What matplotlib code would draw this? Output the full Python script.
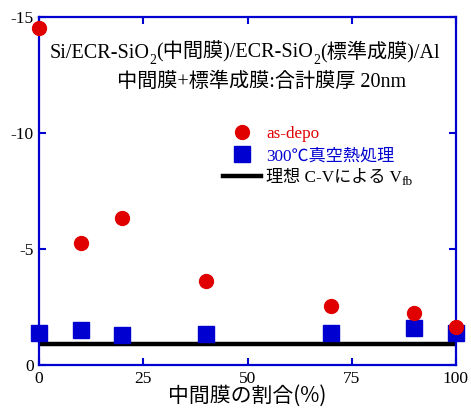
import matplotlib
import matplotlib.pyplot as plt
from matplotlib.transforms import offset_copy
matplotlib.use('Agg')

# Data
ratio = [0, 10, 20, 40, 70, 90, 100]
vfb_asdepo = [-14.5, -5.25, -6.35, -3.6, -2.55, -2.25, -1.65]
vfb_annealed = [-1.4, -1.5, -1.3, -1.35, -1.4, -1.58, -1.4]
vfb_ideal = -0.9

x_ticks = [0, 25, 50, 75, 100]
y_ticks = [0, -5, -10, -15]

serif = ['Liberation Serif', 'Noto Sans CJK JP']
sans = ['Noto Sans CJK JP', 'DejaVu Sans']
blue = '#0000d0'
red = '#e00000'

fig = plt.figure(figsize=(4.71, 4.12), dpi=100)
ax = fig.add_axes([0.083, 0.114, 0.885, 0.845])
renderer = fig.canvas.get_renderer()


def chain_text(x, y, parts, size=14.5):
    # parts: list of (text, is_subscript), drawn one after another on one baseline
    x_disp, y_disp = ax.transAxes.transform((x, y))
    for s, sub in parts:
        fs = size * 0.68 if sub else size
        dy = -4 if sub else 0
        tr = offset_copy(matplotlib.transforms.IdentityTransform(), fig=fig, y=dy, units='points')
        t = fig.text(x_disp, y_disp, s, transform=tr, ha='left', va='baseline',
                     family=serif, fontsize=fs)
        x_disp = t.get_window_extent(renderer).x1


ax.axhline(vfb_ideal, color='black', lw=3.2, label='理想 C-Vによる V', zorder=2)
ax.plot(ratio, vfb_asdepo, 'o', color=red, ms=10, label='as-depo', clip_on=False, zorder=4)
ax.plot(ratio, vfb_annealed, 's', color=blue, ms=11, label='300℃真空熱処理', clip_on=False, zorder=3)

ax.set_xlim(0, 100)
ax.set_ylim(0, -15)
ax.set_xticks(x_ticks)
ax.set_yticks(y_ticks)
ax.set_xticklabels([str(t) for t in x_ticks], family=serif, fontsize=12.5)
ax.set_yticklabels([str(t) for t in y_ticks], family=serif, fontsize=12.5)
ax.tick_params(direction='in', top=True, right=True, length=5, width=1.5, color=blue, pad=4)
for s in ax.spines.values():
    s.set_color(blue)
    s.set_linewidth(1.6)

ax.set_xlabel('中間膜の割合(%)', family=sans, fontsize=15, labelpad=-1)

chain_text(0.025, 0.882, [('Si/ECR-SiO', False), ('2', True), ('(中間膜)/ECR-SiO', False),
                          ('2', True), ('(標準成膜)/Al', False)])
chain_text(0.187, 0.800, [('中間膜+標準成膜:合計膜厚 20nm', False)])

h, l = ax.get_legend_handles_labels()
order = [1, 2, 0]
leg = ax.legend([h[i] for i in order], [l[i] for i in order], frameon=False,
                loc='upper left', bbox_to_anchor=(0.405, 0.73),
                prop={'family': serif, 'size': 12.3}, handlelength=2.2,
                handletextpad=0.3, labelspacing=0.35,
                labelcolor=[red, blue, 'black'])
fig.canvas.draw()
bb = leg.get_texts()[2].get_window_extent(renderer)
fig.text(bb.x1, bb.y0 - 2, 'fb', transform=matplotlib.transforms.IdentityTransform(),
         ha='left', va='bottom', family=serif, fontsize=9.5)

fig.savefig('out.png', dpi=100)
